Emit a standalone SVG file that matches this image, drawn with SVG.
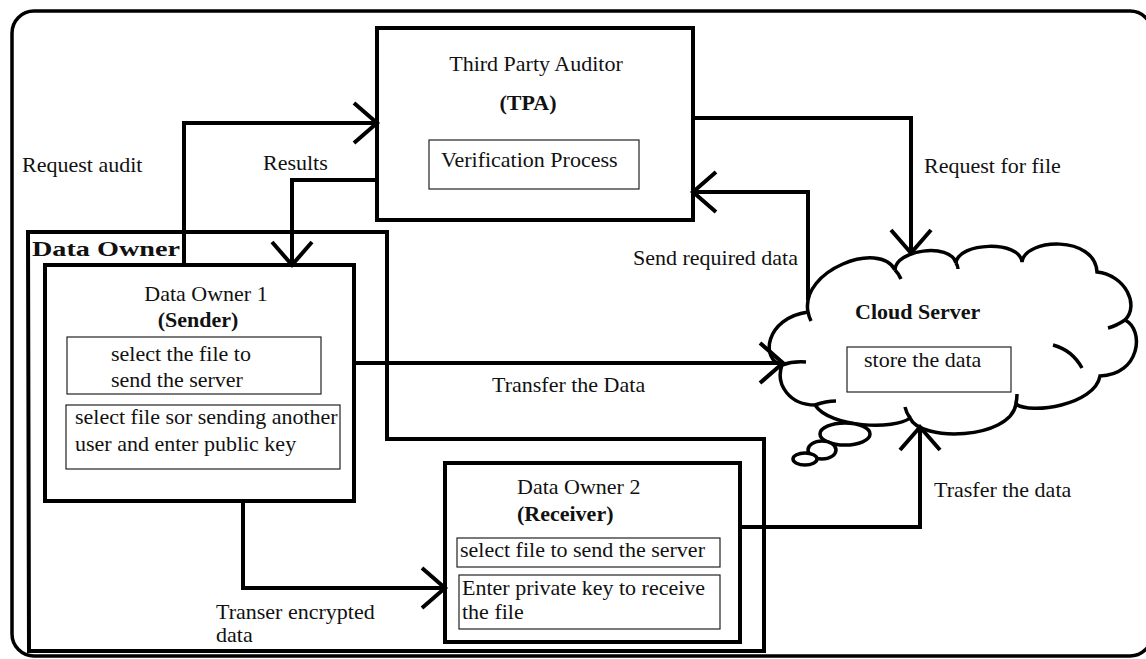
<svg xmlns="http://www.w3.org/2000/svg" width="1146" height="659" viewBox="0 0 1146 659">
<style>
.t{font-family:"Liberation Serif","Times New Roman",serif;font-size:22px;fill:#111}
.b{font-weight:bold}
.thick{fill:none;stroke:#000;stroke-width:4}
.thin{fill:#fff;stroke:#222;stroke-width:1.2}
.conn{fill:none;stroke:#000;stroke-width:4}
</style>
<defs>
<marker id="arr" markerUnits="userSpaceOnUse" orient="auto" viewBox="-30 -30 40 60" markerWidth="40" markerHeight="60" refX="0" refY="0" overflow="visible">
<path d="M-23,-20 L0,0 L-23,20" fill="none" stroke="#000" stroke-width="4"/>
</marker>
</defs>
<rect width="1146" height="659" fill="#fff"/>
<rect x="12" y="11" width="1140" height="645" rx="22" fill="none" stroke="#000" stroke-width="3.5"/>

<g id="data-owner-group">
<path class="thick" d="M28,232 H387 V439 H764 V651 H29 Z"/>
<text class="t b" x="32" y="256" font-size="23" textLength="148" lengthAdjust="spacingAndGlyphs">Data Owner</text>
</g>

<g id="tpa">
<rect class="thick" x="377" y="28" width="316" height="192" fill="#fff"/>
<text class="t" x="536" y="71" text-anchor="middle">Third Party Auditor</text>
<text class="t b" x="528" y="110" text-anchor="middle">(TPA)</text>
<rect class="thin" x="429" y="140" width="210" height="49"/>
<text class="t" x="441" y="167">Verification Process</text>
</g>

<g id="data-owner-1">
<rect class="thick" x="45" y="265" width="309" height="236" fill="#fff"/>
<text class="t" x="206" y="301" text-anchor="middle">Data Owner 1</text>
<text class="t b" x="198" y="327" text-anchor="middle">(Sender)</text>
<rect class="thin" x="67" y="337" width="254" height="57"/>
<text class="t" x="111" y="361">select the file to</text>
<text class="t" x="111" y="387">send the server</text>
<rect class="thin" x="66" y="405" width="274" height="64"/>
<text class="t" x="75" y="424">select file sor sending another</text>
<text class="t" x="75" y="451">user and enter public key</text>
</g>

<g id="data-owner-2">
<rect class="thick" x="445" y="463" width="295" height="179" fill="#fff"/>
<text class="t" x="517" y="494">Data Owner 2</text>
<text class="t b" x="517" y="521">(Receiver)</text>
<rect class="thin" x="457" y="538" width="263" height="29"/>
<text class="t" x="460" y="557">select file to send the server</text>
<rect class="thin" x="459" y="575" width="261" height="54"/>
<text class="t" x="462" y="595">Enter private key to receive</text>
<text class="t" x="462" y="619">the file</text>
</g>

<g id="cloud-server">
<path d="M808,312 C800,270 880,240 895,270 C895,250 950,242 956,263 C958,242 1020,240 1022,262 C1025,238 1095,235 1097,272 C1125,275 1140,305 1125,320 C1145,330 1140,375 1100,376 C1095,405 1030,415 1016,404 C1010,440 920,442 910,418 C895,430 830,428 815,405 C790,405 775,385 782,365 C760,360 765,318 808,312 Z" fill="#fff" stroke="#000" stroke-width="3.5"/>
<g fill="none" stroke="#000" stroke-width="3.5">
<path d="M808,312 Q809,317 811,321"/>
<path d="M895,270 Q899,274 901,279"/>
<path d="M956,263 Q958,266 958,269"/>
<path d="M1125,320 Q1116,326 1108,328"/>
<path d="M1053,345 Q1072,350 1082,368"/>
<path d="M1016,404 Q1017,398 1017,394"/>
<path d="M910,418 Q906,412 905,407"/>
<path d="M815,405 Q826,401 836,401"/>
<path d="M782,365 Q793,361 806,362"/>
<ellipse cx="845" cy="434" rx="25" ry="11" fill="#fff"/>
<ellipse cx="822" cy="450" rx="14" ry="9" fill="#fff"/>
<ellipse cx="805" cy="459" rx="12" ry="6" fill="#fff"/>
</g>
<text class="t b" x="855" y="319">Cloud Server</text>
<rect class="thin" x="847" y="347" width="164" height="45"/>
<text class="t" x="864" y="367">store the data</text>
</g>

<g id="connectors">
<path class="conn" d="M184,265 V123 H377" marker-end="url(#arr)"/>
<path class="conn" d="M377,180 H292 V265" marker-end="url(#arr)"/>
<path class="conn" d="M693,118 H911 V253" marker-end="url(#arr)"/>
<path class="conn" d="M808,300 V192 H693" marker-end="url(#arr)"/>
<path class="conn" d="M354,363 H783" marker-end="url(#arr)"/>
<path class="conn" d="M243,501 V588 H445" marker-end="url(#arr)"/>
<path class="conn" d="M740,527 H920 V427" marker-end="url(#arr)"/>
<text class="t" x="22" y="172">Request audit</text>
<text class="t" x="263" y="170">Results</text>
<text class="t" x="924" y="173">Request for file</text>
<text class="t" x="633" y="265">Send required data</text>
<text class="t" x="492" y="392">Transfer the Data</text>
<text class="t" x="216" y="619">Transer encrypted</text>
<text class="t" x="216" y="642">data</text>
<text class="t" x="934" y="497">Trasfer the data</text>
</g>
</svg>
